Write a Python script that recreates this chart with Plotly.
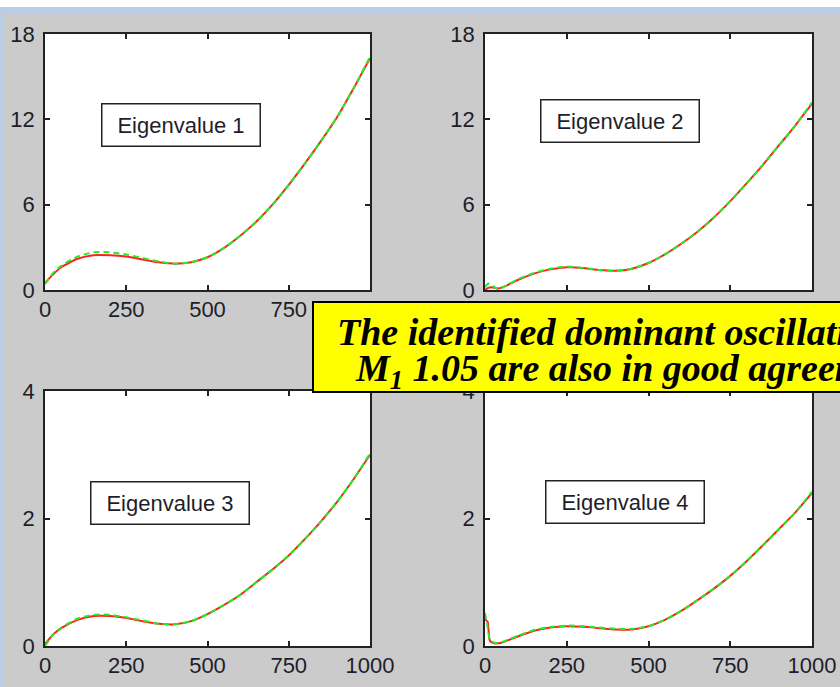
import plotly.graph_objects as go

W, H = 840, 687

# ---- data: eigenvalue trajectories (measured = red, identified = green dashed)
x1 = [0, 25, 50, 100, 150, 200, 250, 300, 350, 400, 450, 500, 550, 600, 650, 700, 750, 800, 850, 900, 950, 1000]
ev1_red = [0.5, 1.1, 1.6, 2.2, 2.45, 2.45, 2.35, 2.15, 1.95, 1.85, 1.95, 2.3, 2.95, 3.8, 4.8, 6.0, 7.4, 8.9, 10.5, 12.2, 14.2, 16.3]
ev1_grn = [0.4, 1.2, 1.7, 2.35, 2.65, 2.65, 2.5, 2.25, 2.0, 1.85, 1.95, 2.3, 2.95, 3.8, 4.8, 6.0, 7.4, 8.9, 10.5, 12.2, 14.2, 16.4]

x2 = [0, 10, 20, 40, 60, 100, 150, 200, 250, 300, 350, 400, 450, 500, 550, 600, 650, 700, 750, 800, 850, 900, 950, 1000]
ev2_red = [0.0, 0.15, 0.2, 0.1, 0.25, 0.7, 1.15, 1.45, 1.6, 1.55, 1.4, 1.35, 1.5, 1.9, 2.5, 3.25, 4.1, 5.1, 6.25, 7.5, 8.8, 10.2, 11.6, 13.1]
ev2_grn = [0.2, 0.45, 0.35, 0.05, 0.25, 0.75, 1.2, 1.5, 1.65, 1.55, 1.4, 1.35, 1.5, 1.9, 2.5, 3.25, 4.1, 5.1, 6.25, 7.5, 8.8, 10.2, 11.6, 13.2]

x3 = [0, 25, 50, 100, 150, 200, 250, 300, 350, 400, 450, 500, 550, 600, 650, 700, 750, 800, 850, 900, 950, 1000]
ev3_red = [0.03, 0.18, 0.28, 0.41, 0.47, 0.47, 0.44, 0.39, 0.35, 0.34, 0.39, 0.5, 0.64, 0.8, 1.0, 1.2, 1.42, 1.68, 1.96, 2.27, 2.62, 3.0]
ev3_grn = [0.0, 0.18, 0.29, 0.43, 0.49, 0.49, 0.45, 0.4, 0.35, 0.34, 0.39, 0.5, 0.64, 0.8, 1.0, 1.2, 1.42, 1.68, 1.96, 2.27, 2.62, 3.02]

x4 = [0, 8, 15, 30, 50, 100, 150, 200, 250, 300, 350, 400, 450, 500, 550, 600, 650, 700, 750, 800, 850, 900, 950, 1000]
ev4_red = [0.42, 0.38, 0.08, 0.04, 0.05, 0.15, 0.24, 0.29, 0.31, 0.3, 0.28, 0.26, 0.26, 0.31, 0.41, 0.55, 0.72, 0.9, 1.1, 1.33, 1.58, 1.84, 2.1, 2.4]
ev4_grn = [0.52, 0.3, 0.1, 0.05, 0.06, 0.16, 0.25, 0.3, 0.32, 0.31, 0.29, 0.27, 0.27, 0.31, 0.41, 0.55, 0.72, 0.9, 1.1, 1.33, 1.58, 1.84, 2.1, 2.42]

x_ticks = [0, 250, 500, 750, 1000]
y_ticks_top = [0, 6, 12, 18]
y_ticks_bottom = [0, 2, 4]
labels = ["Eigenvalue 1", "Eigenvalue 2", "Eigenvalue 3", "Eigenvalue 4"]

RED = "#ff2020"
GREEN = "#22ee22"


def px_x(p):
    return p / W


def px_y(p):
    return 1 - p / H


fig = go.Figure()

panels = [
    (x1, ev1_red, ev1_grn, "x", "y"),
    (x2, ev2_red, ev2_grn, "x2", "y2"),
    (x3, ev3_red, ev3_grn, "x3", "y3"),
    (x4, ev4_red, ev4_grn, "x4", "y4"),
]
for xs, red, grn, xa, ya in panels:
    fig.add_trace(go.Scatter(x=xs, y=red, mode="lines", xaxis=xa, yaxis=ya,
                             line=dict(color=RED, width=2, shape="spline", smoothing=0.6),
                             showlegend=False))
    fig.add_trace(go.Scatter(x=xs, y=grn, mode="lines", xaxis=xa, yaxis=ya,
                             line=dict(color=GREEN, width=2, dash="6px,4px", shape="spline", smoothing=0.6),
                             showlegend=False))

tick_font = dict(family="Liberation Sans, Arial, sans-serif", size=22, color="#1e1e2a")
axis_common = dict(showline=True, linecolor="#222", linewidth=1.5, mirror="ticks",
                   ticks="inside", ticklen=5, tickcolor="#222", tickwidth=1.5,
                   showgrid=False, zeroline=False, tickfont=tick_font, fixedrange=True,
                   automargin=False)

left_dom = [px_x(45), px_x(370)]
right_dom = [px_x(485), px_x(812)]
top_dom = [px_y(290), px_y(34)]
bot_dom = [px_y(646), px_y(391)]

layout = dict(
    width=W, height=H,
    margin=dict(l=0, r=0, t=0, b=0, autoexpand=False),
    paper_bgcolor="#cbcbcb",
    plot_bgcolor="white",
    showlegend=False,
)
xdefs = {"xaxis": (left_dom, "y"), "xaxis2": (right_dom, "y2"),
         "xaxis3": (left_dom, "y3"), "xaxis4": (right_dom, "y4")}
ydefs = {"yaxis": (top_dom, "x", 18, y_ticks_top), "yaxis2": (top_dom, "x2", 18, y_ticks_top),
         "yaxis3": (bot_dom, "x3", 4, y_ticks_bottom), "yaxis4": (bot_dom, "x4", 4, y_ticks_bottom)}
for k, (dom, anchor) in xdefs.items():
    layout[k] = dict(domain=dom, anchor=anchor, range=[0, 1000], tickvals=x_ticks,
                     ticklabelstandoff=-1, **axis_common)
for k, (dom, anchor, top, tv) in ydefs.items():
    layout[k] = dict(domain=dom, anchor=anchor, range=[0, top], tickvals=tv,
                     ticklabelstandoff=4, **axis_common)
fig.update_layout(**layout)

# window frame: white strip with light-blue rule along the top, blue edge on the left
fig.add_shape(type="rect", xref="paper", yref="paper", x0=0, x1=1, y0=px_y(7), y1=1,
              fillcolor="white", line_width=0, layer="below")
fig.add_shape(type="rect", xref="paper", yref="paper", x0=0, x1=1, y0=px_y(13), y1=px_y(7),
              fillcolor="#b9cde6", line_width=0, layer="below")
fig.add_shape(type="rect", xref="paper", yref="paper", x0=0, x1=px_x(4), y0=0, y1=px_y(7),
              fillcolor="#b9cde6", line_width=0, layer="below")

# eigenvalue labels inside each panel
label_pos = [(181, 125), (620, 121), (170, 503), (625, 502)]
for text, (cx, cy) in zip(labels, label_pos):
    fig.add_annotation(xref="paper", yref="paper", x=px_x(cx), y=px_y(cy),
                       text=text, showarrow=False, xanchor="center", yanchor="middle",
                       font=dict(family="Liberation Sans, Arial, sans-serif", size=22, color="#1e1e2a"),
                       bgcolor="white", bordercolor="#222", borderwidth=1.5,
                       width=153, height=37, borderpad=2)

# yellow callout box
fig.add_shape(type="rect", xref="paper", yref="paper", x0=px_x(313), x1=px_x(860),
              y0=px_y(392), y1=px_y(302), fillcolor="#ffff00",
              line=dict(color="black", width=2), layer="above")
callout_font = dict(family="Liberation Serif, Times New Roman, serif", size=38, color="black")
fig.add_annotation(xref="paper", yref="paper", x=px_x(335), y=px_y(332),
                   text="<b><i>The identified dominant oscillation modes</i></b>",
                   showarrow=False, xanchor="left", yanchor="middle", font=callout_font)
fig.add_annotation(xref="paper", yref="paper", x=px_x(353), y=px_y(371),
                   text="<b><i>M<sub>1</sub> 1.05 are also in good agreement</i></b>",
                   showarrow=False, xanchor="left", yanchor="middle", font=callout_font)

fig.write_html("out.html")
